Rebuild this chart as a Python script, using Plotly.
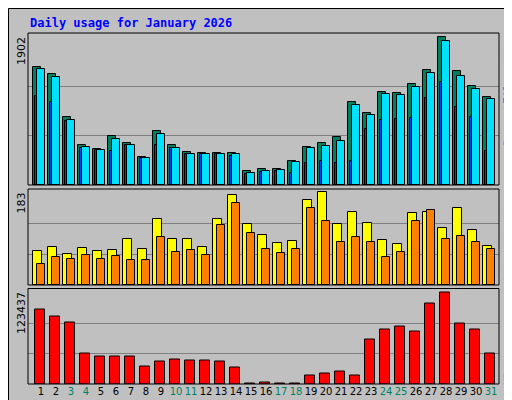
import plotly.graph_objects as go

days = list(range(1, 32))
weekend = [3, 4, 10, 11, 17, 18, 24, 25, 31]

hits = [1514, 1436, 871, 509, 466, 625, 543, 362, 690, 509, 427, 414, 414, 414, 181, 207,
        207, 311, 496, 543, 612, 1074, 932, 1203, 1182, 1298, 1479, 1902, 1466, 1272, 1130]
files = [1488, 1397, 841, 492, 453, 595, 518, 349, 660, 479, 401, 401, 401, 401, 155, 181,
         194, 298, 479, 505, 569, 1035, 906, 1177, 1164, 1268, 1449, 1850, 1410, 1242, 1113]
pages = [1152, 1074, 828, 479, 453, 440, 518, 349, 518, 479, 401, 401, 401, 375, 142, 168,
         181, 155, 285, 311, 285, 311, 725, 841, 854, 867, 1126, 1333, 1009, 880, 440]
visits = [68, 76, 62, 74, 68, 70, 90, 72, 131, 91, 90, 76, 131, 177, 121, 99,
          82, 86, 167, 183, 121, 145, 123, 88, 80, 143, 145, 113, 153, 109, 78]
sites = [42, 56, 52, 60, 52, 58, 50, 50, 95, 66, 70, 60, 119, 161, 103, 72,
         64, 72, 153, 127, 84, 95, 84, 56, 66, 127, 149, 90, 97, 84, 72]
kbytes = [100390, 90890, 82750, 40700, 36630, 36630, 36630, 23060, 29850, 32560, 31200,
          31200, 29850, 21710, 1000, 2400, 1000, 1000, 10850, 13570, 16280, 10850, 59690,
          73260, 77330, 70540, 108530, 123437, 81400, 73260, 40700]

W, H = 512, 400
BG = '#c0c0c0'
x0, x1 = 20 / W, 491 / W


def ydom(top, bottom):
    return [(H - bottom) / H, (H - top) / H]


fig = go.Figure()

def bar(y, color, yax, off, wid):
    fig.add_trace(go.Bar(x=days, y=y, marker_color=color, marker_line_color='black',
                         marker_line_width=1, offset=off, width=wid, yaxis=yax,
                         showlegend=False, hoverinfo='skip'))

bar(hits, '#008060', 'y', -0.53, 0.52)
bar(files, '#00e0ff', 'y', -0.27, 0.52)
bar(pages, '#0040ff', 'y', -0.40, 0.12)
bar(visits, '#ffff00', 'y2', -0.53, 0.58)
bar(sites, '#ff8000', 'y2', -0.25, 0.5)
bar(kbytes, '#ff0000', 'y3', -0.42, 0.66)

grid = dict(showgrid=True, gridcolor='#808080', gridwidth=1, showticklabels=False,
            ticks='', zeroline=False, showline=False)
fig.update_layout(
    width=W, height=H, margin=dict(l=0, r=0, t=0, b=0),
    paper_bgcolor=BG, plot_bgcolor=BG, barmode='overlay', bargap=0,
    xaxis=dict(domain=[x0, x1], range=[0.133, 31.53], anchor='y3',
               tickvals=days, tickangle=0,
               ticktext=[f'<span style="color:#008060">{d}</span>' if d in weekend else str(d)
                         for d in days],
               tickfont=dict(family='DejaVu Sans', size=10, color='black'),
               ticks='', showgrid=False, zeroline=False, showline=False),
    yaxis=dict(domain=ydom(25, 177), range=[0, 1958], tickvals=[634, 1268], **grid),
    yaxis2=dict(domain=ydom(181, 277), range=[0, 189.6], tickvals=[61, 122], **grid),
    yaxis3=dict(domain=ydom(280.5, 376), range=[0, 128863], tickvals=[41146, 82291], **grid),
)

# frames and bevels
shapes = [
    dict(type='rect', xref='paper', yref='paper', x0=0.5 / W, x1=1 - 0.5 / W, y0=0.5 / H,
         y1=1 - 0.5 / H, line=dict(color='black', width=1)),
]
for top, bot in [(25, 177), (181, 277), (280.5, 376)]:
    d = ydom(top, bot)
    shapes.append(dict(type='rect', xref='paper', yref='paper', x0=x0, x1=x1, y0=d[0], y1=d[1],
                       line=dict(color='black', width=1)))
fig.update_layout(shapes=shapes)

mono = 'DejaVu Sans Mono'
fig.add_annotation(text='<b>Daily usage for January 2026</b>', xref='paper', yref='paper',
                   x=20 / W, y=1 - 15 / H, xanchor='left', yanchor='middle', showarrow=False,
                   font=dict(family=mono, size=12, color='#0000ff'))
for txt, ytop in [('1902', 27), ('183', 183), ('123437', 282)]:
    fig.add_annotation(text=txt, xref='paper', yref='paper', x=13 / W, y=1 - ytop / H,
                       xanchor='center', yanchor='top', textangle=-90, showarrow=False,
                       font=dict(family='DejaVu Sans', size=11, color='black'))

# right-hand legend words, rotated, top to bottom
labels = [
    ('Hits', '#008060', 39), ('/', 'black', 56), ('Files', '#0080ff', 80),
    ('/', 'black', 102), ('Pages', '#00c0ff', 122),
    ('Visits', '#ffff00', 214), ('/', 'black', 240), ('Sites', '#ff8000', 258),
    ('KBytes', '#ff0000', 357),
]
for txt, col, yc in labels:
    fig.add_annotation(text=txt, xref='paper', yref='paper', x=500 / W, y=1 - yc / H,
                       xanchor='center', yanchor='middle', textangle=-90, showarrow=False,
                       font=dict(family=mono, size=11, color=col))

fig.write_html('out.html')
